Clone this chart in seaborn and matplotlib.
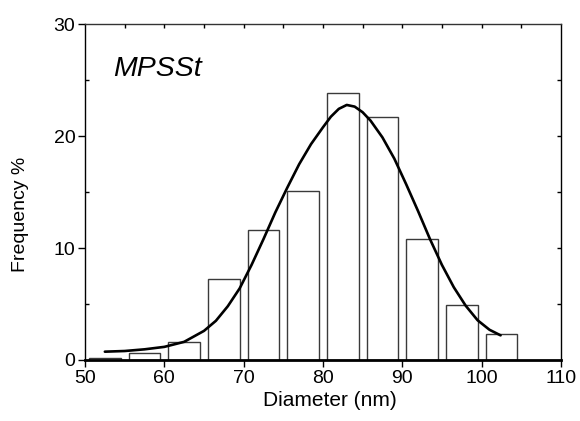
import numpy as np
import pandas as pd
import matplotlib
matplotlib.use("Agg")
import matplotlib.pyplot as plt
import seaborn as sns

# ---- data ----
bin_centers = [52.5, 57.5, 62.5, 67.5, 72.5, 77.5, 82.5, 87.5, 92.5, 97.5, 102.5]
frequency = [0.2, 0.6, 1.58, 7.2, 11.65, 15.13, 23.86, 21.7, 10.84, 4.89, 2.35]

fit_x = [52.5, 55.0, 57.5, 60.0, 62.5, 65.0, 66.5, 68.0, 69.5, 71.0, 72.5, 74.0,
         75.5, 77.0, 78.5, 80.0, 81.0, 82.0, 83.0, 84.0, 85.0, 86.0, 87.5, 89.0,
         90.5, 92.0, 93.5, 95.0, 96.5, 98.0, 99.5, 101.0, 102.4]
fit_y = [0.74, 0.80, 0.95, 1.17, 1.62, 2.6, 3.5, 4.8, 6.4, 8.5, 10.8, 13.2,
         15.4, 17.5, 19.3, 20.8, 21.75, 22.45, 22.8, 22.65, 22.15, 21.4, 19.9, 18.0,
         15.7, 13.3, 10.8, 8.5, 6.5, 4.85, 3.55, 2.7, 2.2]

x_ticks = [50, 60, 70, 80, 90, 100, 110]
y_ticks = [0, 10, 20, 30]
label_text = "MPSSt"
x_label = "Diameter (nm)"
y_label = "Frequency %"

sns.set_style("white")
plt.rcParams["font.family"] = ["Liberation Sans", "DejaVu Sans"]
for k in ["text.color", "axes.labelcolor", "xtick.color", "ytick.color",
          "axes.edgecolor"]:
    plt.rcParams[k] = "black"

fig = plt.figure(figsize=(5.8, 4.21), dpi=100)
ax = fig.add_axes([0.1466, 0.145, 0.8204, 0.797])

hist_df = pd.DataFrame({"diameter": bin_centers, "freq": frequency})
sns.histplot(data=hist_df, x="diameter", weights="freq", binwidth=5,
             binrange=(50, 105), shrink=0.8, color="white", alpha=1,
             edgecolor="#3a3a3a", linewidth=1.0, ax=ax, zorder=2)

fit_df = pd.DataFrame({"x": fit_x, "y": fit_y})
sns.lineplot(data=fit_df, x="x", y="y", color="black", linewidth=1.9,
             ax=ax, zorder=3, sort=True)
for ln in ax.lines:
    ln.set_solid_joinstyle("round")

ax.set_xlim(50, 110)
ax.set_ylim(0, 30)
ax.set_xticks(x_ticks)
ax.set_yticks(y_ticks)
ax.set_yticks([5, 15, 25], minor=True)
ax.tick_params(axis="both", which="major", direction="out", length=5,
               width=1, labelsize=14, pad=2, color="black")
ax.tick_params(axis="y", which="minor", direction="in", length=3, width=1,
               left=True)
ax.set_xlabel(x_label, fontsize=15)
ax.xaxis.set_label_coords(0.514, -0.094)
ax.set_ylabel(y_label, fontsize=14)
ax.yaxis.set_label_coords(-0.118, 0.435)

for s in ["left", "right", "top"]:
    ax.spines[s].set_linewidth(1.0)
    ax.spines[s].set_color("black")
ax.spines["bottom"].set_linewidth(2.0)
ax.spines["top"].set_color("#333333")

# inward ticks on top and right
axr = ax.twinx()
axr.set_ylim(0, 30)
axr.set_yticks(np.arange(5, 30, 5))
axr.tick_params(axis="y", direction="in", length=3, width=1, labelright=False)
axt = ax.twiny()
axt.set_xlim(50, 110)
axt.set_xticks(np.arange(55, 110, 5))
axt.tick_params(axis="x", direction="in", length=3, width=1, labeltop=False)
for a in (axr, axt):
    for s in a.spines.values():
        s.set_visible(False)
    a.grid(False)

ax.text(53.5, 25.4, label_text, fontsize=20.5, style="italic", ha="left",
        va="baseline")

fig.savefig("out.png", dpi=100)
